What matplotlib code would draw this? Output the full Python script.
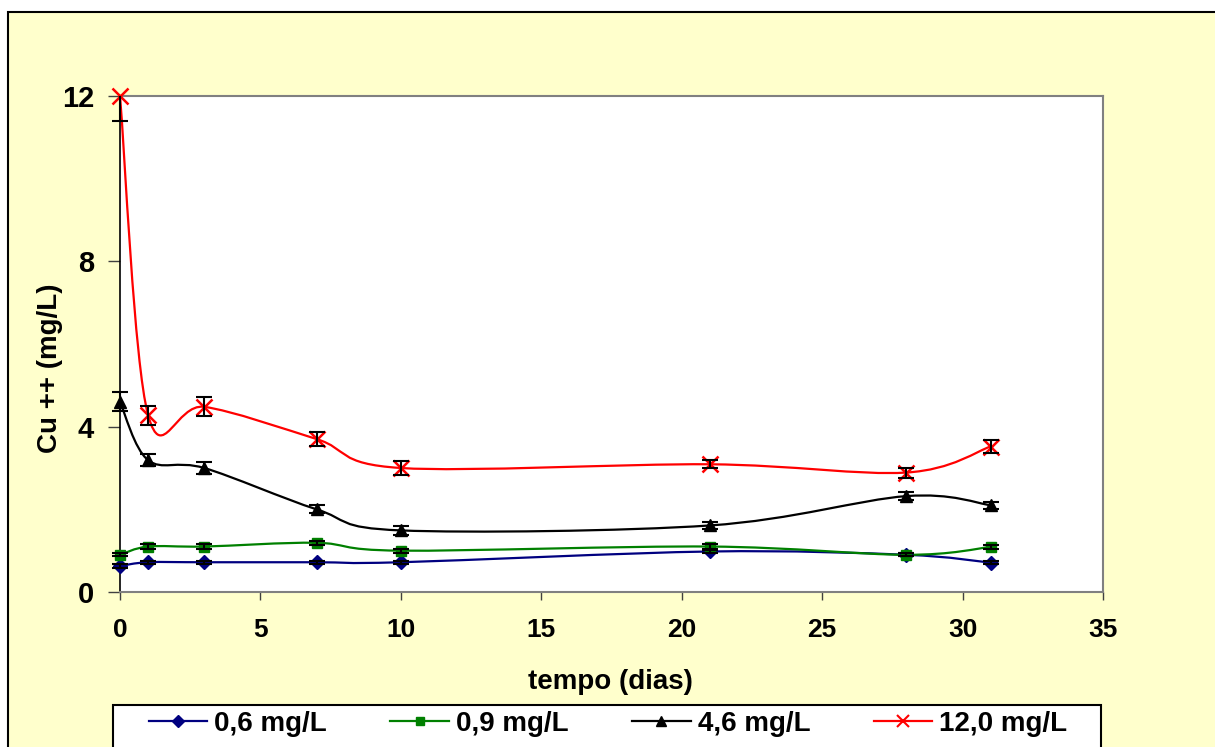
import numpy as np
import matplotlib
matplotlib.use("Agg")
from matplotlib import pyplot as plt
from matplotlib.path import Path
from matplotlib.patches import PathPatch, Rectangle
from matplotlib.lines import Line2D

plt.rcParams['font.family'] = ['Liberation Sans', 'DejaVu Sans']
plt.rcParams['font.weight'] = 'bold'

# dias de ensaio e concentracao de Cu++ (mg/L) para cada dose inicial
dias = [0, 1, 3, 7, 10, 21, 28, 31]
cu_06 = [0.63, 0.72, 0.72, 0.72, 0.72, 0.98, 0.90, 0.71]
cu_09 = [0.90, 1.10, 1.10, 1.19, 1.00, 1.10, 0.90, 1.09]
cu_46 = [4.60, 3.19, 3.00, 2.00, 1.49, 1.61, 2.32, 2.10]
cu_120 = [12.0, 4.28, 4.48, 3.70, 3.00, 3.09, 2.89, 3.52]

# desvios
err_06 = [0.04, 0.04, 0.04, 0.04, 0.04, 0.04, 0.04, 0.04]
err_09 = [0.04, 0.05, 0.05, 0.05, 0.05, 0.05, 0.04, 0.05]
err_46 = [0.23, 0.15, 0.15, 0.10, 0.10, 0.08, 0.10, 0.08]
err_120 = [0.60, 0.23, 0.23, 0.17, 0.16, 0.10, 0.12, 0.15]

rotulos = ["0,6 mg/L", "0,9 mg/L", "4,6 mg/L", "12,0 mg/L"]
cores = ["#000080", "#008000", "#000000", "#FF0000"]
marcadores = ["D", "s", "^", "x"]
tam_marc = [7.5, 7.5, 9, 11]


def linha_suave(xs, ys):
    # curva suavizada (bezier tipo catmull-rom) passando pelos pontos
    pts = np.column_stack([xs, ys]).astype(float)
    n = len(pts)
    verts = [pts[0]]
    codes = [Path.MOVETO]
    for i in range(n - 1):
        p0 = pts[max(i - 1, 0)]
        p1 = pts[i]
        p2 = pts[i + 1]
        p3 = pts[min(i + 2, n - 1)]
        verts += [p1 + (p2 - p0) / 6, p2 - (p3 - p1) / 6, p2]
        codes += [Path.CURVE4] * 3
    return Path(verts, codes)


fig = plt.figure(figsize=(12.15, 7.47), dpi=100)
fig.patch.set_facecolor("white")

# fundo amarelo da area do grafico
fundo = Rectangle((8 / 1215, -0.1), 1.2, 1 - 12 / 747 + 0.1, transform=fig.transFigure,
                  facecolor="#FFFFCC", edgecolor="black", linewidth=1.5, zorder=-1)
fig.patches.append(fundo)

ax = fig.add_axes([120 / 1215, 1 - 592 / 747, 983 / 1215, 496 / 747])
ax.set_facecolor("white")

series = [cu_06, cu_09, cu_46, cu_120]
erros = [err_06, err_09, err_46, err_120]

clip = Rectangle((-0.05, 0), 1.1, 1, transform=ax.transAxes)

for ys, es, cor, mk, ms in zip(series, erros, cores, marcadores, tam_marc):
    ax.add_patch(PathPatch(linha_suave(dias, ys), facecolor="none", edgecolor=cor,
                           linewidth=1.6, zorder=2))
    ax.plot(dias, ys, linestyle="none", marker=mk, markersize=ms, color=cor,
            markeredgewidth=1.8 if mk == "x" else 1, clip_on=False, zorder=3)
    eb = ax.errorbar(dias, ys, yerr=es, fmt="none", ecolor="black", elinewidth=1.5,
                     capsize=5.5, capthick=1.5, zorder=4)
    for art in list(eb.lines[1]) + list(eb.lines[2]):
        art.set_clip_path(clip)

ax.set_xlim(0, 35)
ax.set_ylim(0, 12)
ax.set_xticks(range(0, 36, 5))
ax.set_yticks([0, 4, 8, 12])

for lado in ["top", "right", "bottom"]:
    ax.spines[lado].set_color("#808080")
    ax.spines[lado].set_linewidth(1.5)
ax.spines["left"].set_color("black")
ax.spines["left"].set_linewidth(1.2)

ax.tick_params(axis="y", direction="out", length=8.6, width=1, color="#404040",
               labelsize=21, pad=10)
ax.tick_params(axis="x", direction="out", length=5.8, width=1, color="#404040",
               labelsize=19, pad=13)
for lab in ax.get_xticklabels() + ax.get_yticklabels():
    lab.set_fontweight("bold")

fig.text(610 / 1215, 1 - 682 / 747, "tempo (dias)", ha="center", va="center",
         fontsize=20, fontweight="bold")
fig.text(50 / 1215, 1 - 368 / 747, "Cu ++ (mg/L)", ha="center", va="center",
         rotation=90, fontsize=20, fontweight="bold")

# caixa da legenda
caixa = Rectangle((113 / 1215, -0.1), 988 / 1215, 1 - 705 / 747 + 0.1,
                  transform=fig.transFigure, facecolor="white", edgecolor="black",
                  linewidth=1.5, zorder=1)
fig.patches.append(caixa)

handles = [Line2D([], [], color=c, marker=m, markersize=s * 0.75, linewidth=1.6,
                  markeredgewidth=1.5 if m == "x" else 1)
           for c, m, s in zip(cores, marcadores, tam_marc)]
leg = fig.legend(handles, rotulos, loc="upper center", ncol=4,
                 bbox_to_anchor=(608 / 1215, 1 - 705 / 747),
                 borderaxespad=0, borderpad=0.2, handlelength=2.1, handletextpad=0.25,
                 columnspacing=2.3, frameon=False, prop={"size": 20, "weight": "bold"})
leg.set_zorder(2)

fig.savefig("out.png", dpi=100)
